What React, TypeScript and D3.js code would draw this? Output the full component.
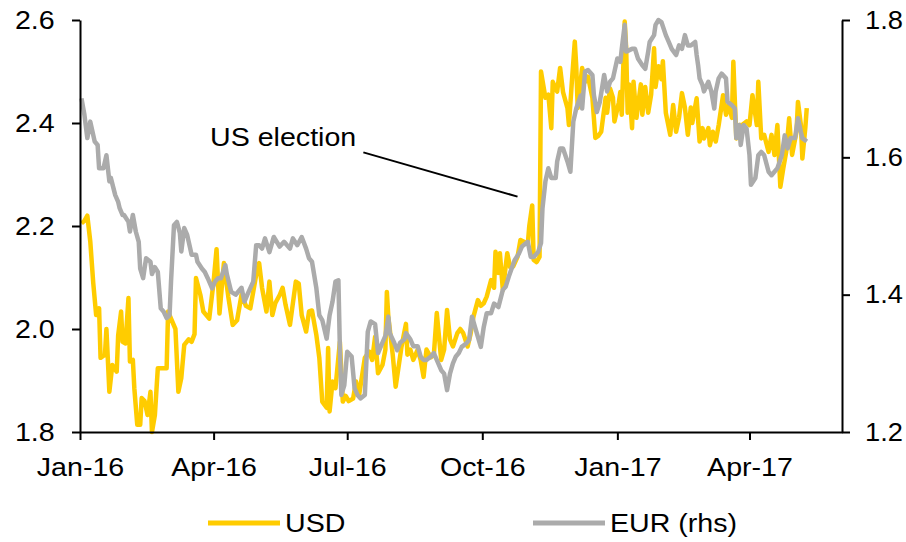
import * as d3 from 'd3';
import React, { useRef, useEffect } from 'react';

// day offsets are counted from 1 Jan 2016
const START = new Date(2016, 0, 1);
const END = new Date(2017, 5, 3);

const tickDates = [
  new Date(2016, 0, 1),
  new Date(2016, 3, 1),
  new Date(2016, 6, 1),
  new Date(2016, 9, 1),
  new Date(2017, 0, 1),
  new Date(2017, 3, 1),
];
const tickLabels = ['Jan-16', 'Apr-16', 'Jul-16', 'Oct-16', 'Jan-17', 'Apr-17'];
const usdTicks = [1.8, 2.0, 2.2, 2.4, 2.6];
const eurTicks = [1.2, 1.4, 1.6, 1.8];

// USD (lhs)
const usd: [number, number][] = [
  [1, 2.205], [3, 2.21], [5, 2.22], [7, 2.17], [9, 2.09], [11, 2.027], [13, 2.04], [14, 1.944],
  [17, 1.95], [18, 2.0], [20, 1.878], [22, 1.93], [25, 1.917], [26, 1.988], [28, 2.034], [29, 1.975],
  [31, 1.972], [33, 2.06], [34, 1.937], [36, 1.94], [37, 1.885], [39, 1.814], [41, 1.814], [42, 1.866],
  [44, 1.86], [46, 1.833], [48, 1.878], [49, 1.8], [51, 1.833], [53, 1.924], [57, 1.924], [59, 1.924],
  [60, 2.034], [62, 2.02], [65, 2.0], [67, 1.878], [69, 1.905], [71, 1.969], [74, 1.98], [76, 1.975],
  [78, 1.99], [79, 2.099], [82, 2.066], [84, 2.034], [86, 2.027], [88, 2.02], [91, 2.092], [93, 2.155],
  [95, 2.03], [98, 2.128], [101, 2.063], [104, 2.008], [107, 2.017], [110, 2.066], [113, 2.045], [116, 2.04],
  [120, 2.105], [122, 2.128], [124, 2.08], [127, 2.034], [129, 2.092], [131, 2.027], [133, 2.05], [136, 2.066],
  [138, 2.08], [140, 2.047], [143, 2.008], [145, 2.05], [147, 2.092], [149, 2.088], [151, 2.027], [154, 1.995],
  [156, 2.034], [158, 2.036], [161, 1.988], [163, 1.944], [165, 1.859], [168, 1.847], [169, 1.963], [170, 1.84],
  [172, 1.898], [174, 1.885], [177, 1.975], [179, 1.859], [181, 1.87], [183, 1.86], [186, 1.865], [188, 1.898],
  [190, 1.87], [194, 1.944], [197, 1.956], [199, 1.94], [201, 1.985], [203, 1.914], [206, 1.93], [208, 1.96],
  [209, 2.072], [210, 2.024], [213, 1.95], [215, 1.888], [217, 1.927], [219, 1.966], [222, 2.01], [223, 1.95],
  [225, 1.96], [227, 1.94], [230, 1.96], [232, 1.94], [234, 1.907], [236, 1.96], [239, 1.945], [241, 1.95],
  [243, 2.031], [246, 1.94], [248, 1.96], [250, 2.037], [252, 1.98], [254, 1.966], [257, 1.992], [259, 2.0],
  [261, 1.992], [264, 1.966], [266, 1.99], [268, 2.024], [271, 2.056], [273, 2.045], [275, 2.05], [277, 2.063],
  [280, 2.095], [282, 2.08], [283, 2.15], [285, 2.109], [286, 2.147], [288, 2.076], [291, 2.147], [293, 2.12],
  [295, 2.121], [298, 2.14], [300, 2.173], [302, 2.17], [305, 2.165], [306, 2.2], [308, 2.24], [309, 2.134],
  [311, 2.13], [313, 2.14], [314, 2.5], [317, 2.449], [319, 2.455], [321, 2.39], [322, 2.48], [325, 2.461],
  [327, 2.507], [329, 2.46], [332, 2.429], [333, 2.396], [335, 2.48], [337, 2.558], [338, 2.51], [339, 2.429],
  [342, 2.507], [344, 2.48], [346, 2.49], [349, 2.449], [351, 2.371], [353, 2.375], [355, 2.383], [358, 2.449],
  [359, 2.42], [361, 2.467], [363, 2.449], [364, 2.403], [367, 2.44], [368, 2.46], [369, 2.416], [371, 2.597],
  [372, 2.545], [373, 2.42], [374, 2.475], [376, 2.39], [377, 2.48], [379, 2.41], [382, 2.475], [383, 2.416],
  [385, 2.47], [387, 2.42], [389, 2.455], [391, 2.545], [392, 2.47], [394, 2.51], [396, 2.485], [397, 2.52],
  [399, 2.42], [402, 2.377], [404, 2.435], [406, 2.383], [408, 2.41], [410, 2.458], [412, 2.43], [414, 2.377],
  [416, 2.43], [417, 2.4], [420, 2.448], [422, 2.364], [424, 2.39], [425, 2.37], [428, 2.39], [429, 2.357],
  [431, 2.383], [433, 2.364], [435, 2.396], [438, 2.454], [440, 2.416], [442, 2.435], [444, 2.41], [445, 2.519],
  [447, 2.37], [449, 2.396], [451, 2.396], [454, 2.403], [456, 2.396], [458, 2.454], [461, 2.396], [462, 2.48],
  [464, 2.37], [466, 2.377], [469, 2.344], [471, 2.377], [473, 2.338], [475, 2.396], [477, 2.276], [479, 2.312],
  [481, 2.344], [483, 2.409], [485, 2.338], [488, 2.383], [489, 2.441], [491, 2.396], [492, 2.331], [494, 2.39],
  [495, 2.429],
];

// EUR (rhs)
const eur: [number, number][] = [
  [1, 1.686], [3, 1.662], [5, 1.628], [7, 1.652], [10, 1.623], [12, 1.618], [13, 1.584], [16, 1.584],
  [18, 1.603], [20, 1.565], [21, 1.57], [24, 1.545], [26, 1.535], [27, 1.526], [29, 1.516], [30, 1.516],
  [33, 1.506], [34, 1.492], [36, 1.516], [38, 1.492], [40, 1.477], [41, 1.438], [43, 1.424], [45, 1.453],
  [48, 1.448], [49, 1.43], [51, 1.44], [53, 1.433], [55, 1.38], [57, 1.375], [59, 1.366], [61, 1.37],
  [62, 1.419], [64, 1.501], [66, 1.506], [68, 1.49], [69, 1.463], [71, 1.497], [73, 1.487], [75, 1.468],
  [76, 1.458], [79, 1.458], [80, 1.448], [83, 1.438], [85, 1.433], [87, 1.424], [90, 1.409], [92, 1.419],
  [94, 1.424], [96, 1.424], [99, 1.443], [100, 1.43], [103, 1.404], [106, 1.4], [110, 1.41], [112, 1.39],
  [114, 1.4], [118, 1.419], [120, 1.472], [122, 1.472], [124, 1.467], [126, 1.482], [129, 1.462], [132, 1.484],
  [136, 1.47], [139, 1.477], [143, 1.467], [145, 1.482], [148, 1.472], [151, 1.484], [154, 1.467], [156, 1.453],
  [158, 1.448], [161, 1.409], [163, 1.37], [165, 1.363], [168, 1.336], [170, 1.37], [172, 1.39], [174, 1.419],
  [176, 1.421], [177, 1.322], [178, 1.254], [180, 1.268], [182, 1.317], [185, 1.31], [187, 1.264], [189, 1.254],
  [191, 1.249], [194, 1.254], [196, 1.346], [198, 1.361], [201, 1.357], [203, 1.315], [206, 1.33], [208, 1.34],
  [210, 1.368], [211, 1.344], [214, 1.33], [216, 1.319], [218, 1.33], [221, 1.335], [222, 1.344], [225, 1.335],
  [227, 1.325], [230, 1.325], [232, 1.31], [234, 1.305], [236, 1.305], [239, 1.31], [241, 1.315], [243, 1.305],
  [246, 1.29], [248, 1.285], [250, 1.261], [252, 1.285], [254, 1.3], [256, 1.31], [258, 1.315], [260, 1.324],
  [263, 1.329], [265, 1.334], [267, 1.368], [269, 1.353], [273, 1.324], [275, 1.353], [277, 1.373], [280, 1.373],
  [282, 1.387], [285, 1.382], [288, 1.407], [290, 1.412], [292, 1.426], [296, 1.45], [299, 1.46], [301, 1.47],
  [305, 1.477], [307, 1.455], [309, 1.455], [312, 1.462], [314, 1.475], [315, 1.526], [317, 1.565], [319, 1.584],
  [321, 1.57], [324, 1.57], [325, 1.594], [327, 1.613], [329, 1.613], [332, 1.594], [334, 1.579], [336, 1.652],
  [338, 1.671], [341, 1.69], [342, 1.671], [344, 1.725], [346, 1.727], [349, 1.72], [350, 1.691], [352, 1.666],
  [354, 1.68], [357, 1.72], [359, 1.696], [361, 1.71], [363, 1.715], [366, 1.744], [368, 1.739], [369, 1.758],
  [371, 1.793], [372, 1.754], [376, 1.758], [378, 1.758], [380, 1.744], [383, 1.734], [385, 1.729], [387, 1.754],
  [388, 1.768], [391, 1.778], [392, 1.793], [394, 1.8], [396, 1.797], [399, 1.778], [401, 1.768], [403, 1.758],
  [406, 1.749], [408, 1.763], [410, 1.758], [412, 1.778], [414, 1.763], [416, 1.763], [419, 1.768], [420, 1.749],
  [421, 1.734], [422, 1.715], [424, 1.705], [425, 1.696], [428, 1.71], [430, 1.696], [432, 1.671], [433, 1.696],
  [435, 1.715], [437, 1.722], [440, 1.715], [441, 1.681], [444, 1.676], [446, 1.671], [447, 1.628], [449, 1.647],
  [450, 1.618], [452, 1.647], [454, 1.642], [456, 1.603], [457, 1.56], [460, 1.57], [462, 1.603], [464, 1.608],
  [466, 1.603], [469, 1.579], [471, 1.574], [473, 1.579], [475, 1.584], [478, 1.603], [480, 1.632], [482, 1.613],
  [484, 1.628], [487, 1.628], [489, 1.657], [491, 1.637], [492, 1.628], [495, 1.623],
];

const FONT = "'Liberation Sans', Arial, sans-serif";
const YELLOW = '#FFCC00';
const GREY = '#ABABAB';

function Chart() {
  const svgRef = useRef(null);

  useEffect(() => {
    const width = 906,
      height = 542;
    const left = 80,
      right = 842,
      top = 20,
      bottom = 432;

    const svg = d3.select(svgRef.current).attr('width', width).attr('height', height);
    svg.selectAll('*').remove();

    const x = d3.scaleTime().domain([START, END]).range([left, right]);
    const yL = d3.scaleLinear().domain([1.8, 2.6]).range([bottom, top]);
    const yR = d3.scaleLinear().domain([1.2, 1.8]).range([bottom, top]);
    const day = (d: number) => d3.timeDay.offset(START, d);

    const styleAxis = (g: any) => {
      g.select('.domain').attr('stroke', '#000').attr('stroke-width', 2);
      g.selectAll('.tick line').attr('stroke', '#000').attr('stroke-width', 2);
      g.selectAll('.tick text')
        .attr('fill', '#000')
        .style('font-family', FONT)
        .style('font-size', '26px');
    };

    // lines
    const usdLine = d3
      .line<[number, number]>()
      .x((d) => x(day(d[0])))
      .y((d) => yL(d[1]));
    const eurLine = d3
      .line<[number, number]>()
      .x((d) => x(day(d[0])))
      .y((d) => yR(d[1]));

    svg
      .append('path')
      .datum(usd)
      .attr('fill', 'none')
      .attr('stroke', YELLOW)
      .attr('stroke-width', 4.5)
      .attr('stroke-linejoin', 'round')
      .attr('d', usdLine);

    svg
      .append('path')
      .datum(eur)
      .attr('fill', 'none')
      .attr('stroke', GREY)
      .attr('stroke-width', 4.5)
      .attr('stroke-linejoin', 'round')
      .attr('d', eurLine);

    // left axis
    const gL = svg
      .append('g')
      .attr('transform', `translate(${left},0)`)
      .call(
        d3.axisLeft(yL).tickValues(usdTicks).tickFormat(d3.format('.1f')).tickSize(8).tickSizeOuter(0).tickPadding(15)
      );
    styleAxis(gL);
    gL.selectAll('.tick text').attr('transform', 'scale(1.1,1)');

    // right axis
    const gR = svg
      .append('g')
      .attr('transform', `translate(${right},0)`)
      .call(
        d3.axisRight(yR).tickValues(eurTicks).tickFormat(d3.format('.1f')).tickSize(8).tickSizeOuter(0).tickPadding(14)
      );
    styleAxis(gR);
    gR.selectAll('.tick text').attr('transform', 'scale(1.05,1)');

    // bottom axis
    const gB = svg
      .append('g')
      .attr('transform', `translate(0,${bottom})`)
      .call(
        d3
          .axisBottom(x)
          .tickValues(tickDates)
          .tickFormat((d, i) => tickLabels[i])
          .tickSize(8)
          .tickSizeOuter(0)
          .tickPadding(18)
      );
    styleAxis(gB);
    gB.selectAll('.tick text').attr('transform', 'scale(1.1,1)');

    // annotation
    svg
      .append('line')
      .attr('x1', x(new Date(2016, 6, 12)))
      .attr('y1', yL(2.343))
      .attr('x2', x(new Date(2016, 9, 25)))
      .attr('y2', yL(2.257))
      .attr('stroke', '#000')
      .attr('stroke-width', 2);
    svg
      .append('text')
      .attr('transform', `translate(210,146) scale(1.1,1)`)
      .style('font-family', FONT)
      .style('font-size', '26px')
      .text('US election');

    // legend
    const legend = [
      { label: 'USD', color: YELLOW, x: 208 },
      { label: 'EUR (rhs)', color: GREY, x: 533 },
    ];
    legend.forEach((l) => {
      svg
        .append('line')
        .attr('x1', l.x)
        .attr('x2', l.x + 72)
        .attr('y1', 523)
        .attr('y2', 523)
        .attr('stroke', l.color)
        .attr('stroke-width', 5);
      svg
        .append('text')
        .attr('transform', `translate(${l.x + 77},532) scale(1.1,1)`)
        .style('font-family', FONT)
        .style('font-size', '26px')
        .text(l.label);
    });
  }, []);

  return <svg ref={svgRef} style={{ position: 'absolute', left: 0, top: 0 }}></svg>;
}

export default function App() {
  return <Chart />;
}
